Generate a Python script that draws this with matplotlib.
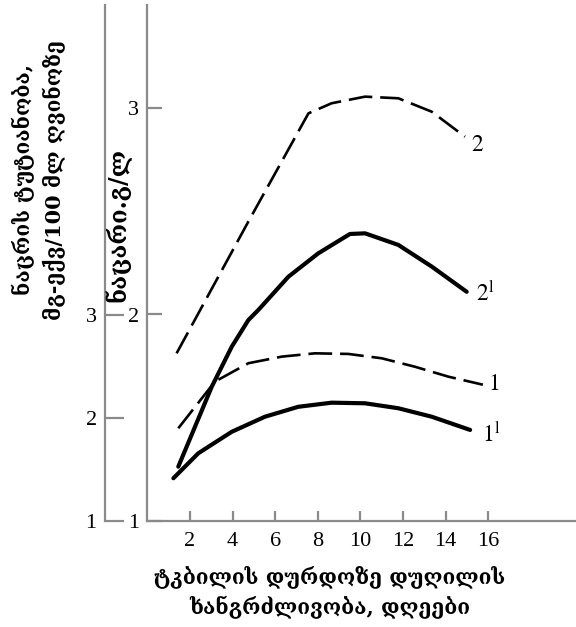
import matplotlib
matplotlib.use("Agg")
import matplotlib.pyplot as plt

plt.rcParams['mathtext.fontset'] = 'stix'

# Data (inner axis units)
x_2 = [1.37, 4.74, 7.56, 8.65, 10.22, 11.78, 13.35, 14.91]
y_2 = [1.812, 2.45, 2.974, 3.023, 3.055, 3.047, 2.982, 2.861]

x_2p = [1.45, 3.02, 3.96, 4.74, 5.21, 6.62, 8.02, 9.51, 10.22, 11.78, 13.35, 14.99]
y_2p = [1.263, 1.65, 1.844, 1.973, 2.022, 2.183, 2.296, 2.39, 2.393, 2.337, 2.232, 2.11]

x_1 = [1.45, 3.17, 4.74, 6.31, 7.87, 9.43, 11.0, 12.56, 14.13, 15.75]
y_1 = [1.449, 1.675, 1.764, 1.796, 1.812, 1.809, 1.788, 1.747, 1.699, 1.66]

x_1p = [1.22, 2.39, 3.96, 5.52, 7.08, 8.65, 10.22, 11.78, 13.35, 15.15]
y_1p = [1.207, 1.328, 1.432, 1.505, 1.553, 1.573, 1.570, 1.546, 1.505, 1.441]

x_ticks = [2, 4, 6, 8, 10, 12, 14, 16]
inner_ticks = [1, 2, 3]
outer_ticks = [1, 2, 3]

xlabel = "ტკბილის დურდოზე დუღილის\nხანგრძლივობა, დღეები"
ylabel_outer = "ნაცრის ტუტიანობა,\nმგ-ექვ/100 მლ ღვინოზე"
ylabel_inner = "ნაცარი.გ/ლ"

W, H = 576, 627
fig = plt.figure(figsize=(W/100, H/100), dpi=100)
left_px, right_px, bot_px, top_px = 147.4, 576, 521, 5
ax = fig.add_axes([left_px/W, (H-bot_px)/H, (right_px-left_px)/W, (bot_px-top_px)/H])

num_font = dict(family='Liberation Serif', size=16)
geo_font = dict(family=['DejaVu Serif', 'DejaVu Sans'], weight='bold', size=15)
spine_col = '#8a8a8a'

lw_d = 1.9
ax.plot(x_2, y_2, color='black', lw=lw_d, dashes=(9, 3))
ax.plot(x_1, y_1, color='black', lw=lw_d, dashes=(9, 3))
ax.plot(x_2p, y_2p, color='black', lw=3.0, solid_capstyle='round', solid_joinstyle='round')
ax.plot(x_1p, y_1p, color='black', lw=3.0, solid_capstyle='round', solid_joinstyle='round')

ax.set_xlim(0, (right_px-left_px)/21.3)
ax.set_ylim(1, 1 + (bot_px-top_px)/206.5)

for s in ['top', 'right']:
    ax.spines[s].set_visible(False)
for s in ['left', 'bottom']:
    ax.spines[s].set_color(spine_col)
    ax.spines[s].set_linewidth(1.6)

ax.set_xticks(x_ticks)
ax.set_xticklabels([str(v) for v in x_ticks], fontdict=num_font)
ax.tick_params(axis='x', direction='in', length=7, width=1.6, color=spine_col, pad=8)
ax.set_yticks(inner_ticks)
ax.set_yticklabels([str(v) for v in inner_ticks], fontdict=num_font)
ax.tick_params(axis='y', direction='in', length=11, width=1.6, color=spine_col, pad=6)

# outer axis
ax2 = ax.twinx()
ax2.spines['right'].set_visible(False)
ax2.spines['top'].set_visible(False)
ax2.spines['bottom'].set_visible(False)
ax2.spines['left'].set_visible(True)
ax2.spines['left'].set_position(('axes', (105-left_px)/(right_px-left_px)))
ax2.spines['left'].set_color(spine_col)
ax2.spines['left'].set_linewidth(1.6)
ax2.yaxis.set_ticks_position('left')
ax2.yaxis.set_label_position('left')
ax2.set_ylim(1, 1 + (bot_px-top_px)/103.0)
ax2.set_yticks(outer_ticks)
ax2.set_yticklabels([str(v) for v in outer_ticks], fontdict=num_font)
ax2.tick_params(axis='y', direction='in', length=14, width=1.6, color=spine_col, pad=6)

# curve labels
lab = dict(fontsize=17, family='STIXGeneral', va='center', ha='left')
ax.text(15.2, 2.82, "2", **lab)
ax.text(15.45, 2.10, r"$2^{\mathrm{l}}$", **lab)
ax.text(16.0, 1.66, "1", **lab)
ax.text(15.7, 1.42, r"$1^{\mathrm{l}}$", **lab)

fig.text(330/W, 1-592/H, xlabel, ha='center', va='center', linespacing=1.45, **geo_font)
fig.text(39/W, 1-180/H, ylabel_outer, ha='center', va='center', rotation=90, linespacing=1.45, **geo_font)
fig.text(118/W, 1-225/H, ylabel_inner, ha='center', va='center', rotation=90,
         family=['DejaVu Serif', 'DejaVu Sans'], weight='bold', size=17)

fig.savefig("out.png", dpi=100)
